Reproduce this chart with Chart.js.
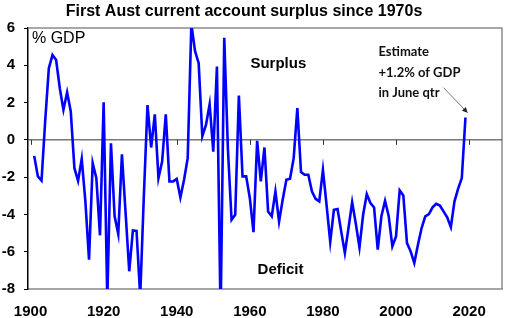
<!DOCTYPE html>
<html>
<head>
<meta charset="utf-8">
<script src="https://cdn.jsdelivr.net/npm/chart.js@4.4.1/dist/chart.umd.min.js"></script>
<style>
  html, body { margin: 0; padding: 0; background: #fff; }
  #wrap { width: 523px; height: 318px; position: relative; }
</style>
</head>
<body>
<div id="wrap"><canvas id="chart"></canvas></div>
<script>
/* ─── Data ─────────────────────────────────────── */

const TITLE = 'First Aust current account surplus since 1970s';
const FIRST_YEAR = 1901;
// current account balance, % of GDP, one value per year 1901..2019
const surplus = [
  -0.86, -1.96, -2.18, 1.0, 3.84, 4.55, 4.28, 2.77, 1.61, 2.55,
  1.52, -1.52, -2.2, -1.02, -3.3, -6.43, -1.25, -2.05, -5.12, 2.02,
  -8.6, -0.18, -4.1, -5.05, -0.77, -3.9, -7.05, -4.86, -4.88, -8.4,
  -3.0, 1.87, -0.41, 1.37, -2.05, -1.16, 1.37, -2.23, -2.23, -2.1,
  -3.09, -2.14, -0.98, 6.2, 4.77, 4.11, 0.2, 0.8, 1.91, -0.63,
  3.93, -9.5, 5.48, -0.5, -4.29, -4.02, 2.38, -1.96, -1.96, -3.13,
  -4.95, -0.05, -2.23, -0.41, -3.84, -4.1, -2.77, -4.38, -3.2, -2.14,
  -2.09, -0.98, 1.7, -1.73, -1.87, -1.87, -2.77, -3.16, -3.3, -1.61,
  -3.5, -5.48, -3.75, -3.71, -4.91, -6.07, -4.73, -3.34, -4.5, -5.77,
  -4.02, -2.91, -3.39, -3.63, -5.89, -4.1, -3.27, -4.1, -5.71, -5.18,
  -2.71, -2.98, -5.54, -5.98, -6.61, -5.63, -4.73, -4.1, -3.98, -3.62,
  -3.43, -3.52, -3.84, -4.16, -4.68, -3.3, -2.62, -2.05, 1.2,
];
const xTicks = [1900, 1920, 1940, 1960, 1980, 2000, 2020];
const yTicks = [6, 4, 2, 0, -2, -4, -6, -8];
const estimateLines = ['Estimate', '+1.2% of GDP', 'in June qtr'];

const years = surplus.map((_, i) => FIRST_YEAR + i);

/* ─── Decorations ──────────────────────────────── */

const decor = {
  id: 'decor',
  beforeDatasetsDraw(chart) {
    const { ctx, chartArea: a, scales: { x, y } } = chart;
    ctx.save();
    // top + right frame
    ctx.strokeStyle = '#8c8c8c';
    ctx.lineWidth = 1.5;
    ctx.beginPath();
    ctx.moveTo(a.left, a.top); ctx.lineTo(a.right, a.top); ctx.lineTo(a.right, a.bottom);
    ctx.stroke();
    // zero line with tick marks below it
    const y0 = y.getPixelForValue(0);
    ctx.strokeStyle = '#333';
    ctx.lineWidth = 1;
    ctx.beginPath();
    ctx.moveTo(a.left, y0); ctx.lineTo(a.right, y0);
    xTicks.forEach(v => {
      const px = Math.round(x.getPixelForValue(v)) + 0.5;
      ctx.moveTo(px, y0); ctx.lineTo(px, y0 + 5);
    });
    ctx.stroke();
    ctx.restore();
  },
  afterDraw(chart) {
    const { ctx, chartArea: a, scales: { x, y } } = chart;
    ctx.save();
    ctx.fillStyle = '#000';
    ctx.textBaseline = 'middle';
    ctx.textAlign = 'center';
    ctx.font = 'bold 16px "Liberation Sans", Arial, sans-serif';
    ctx.fillText(TITLE, 244, 12);

    ctx.textAlign = 'left';
    ctx.font = '16px "Liberation Sans", Arial, sans-serif';
    ctx.fillText('% GDP', a.left + 4, a.top + 11);

    ctx.textAlign = 'center';
    ctx.font = 'bold 15px "Liberation Sans", Arial, sans-serif';
    ctx.fillText('Surplus', x.getPixelForValue(1967.8), y.getPixelForValue(4.1));
    ctx.fillText('Deficit', x.getPixelForValue(1968.4), y.getPixelForValue(-6.95));

    ctx.textAlign = 'left';
    ctx.fillStyle = '#111';
    ctx.font = 'bold 13px Lato, sans-serif';
    [4.7, 3.6, 2.5].forEach((v, i) => {
      ctx.fillText(estimateLines[i], x.getPixelForValue(1995.2), y.getPixelForValue(v));
    });

    // arrow to the latest estimate
    const x1 = x.getPixelForValue(2013), y1 = y.getPixelForValue(2.8);
    const x2 = x.getPixelForValue(2019.6), y2 = y.getPixelForValue(1.45);
    ctx.strokeStyle = '#555';
    ctx.lineWidth = 0.8;
    ctx.beginPath(); ctx.moveTo(x1, y1); ctx.lineTo(x2, y2); ctx.stroke();
    const ang = Math.atan2(y2 - y1, x2 - x1);
    ctx.fillStyle = '#222';
    ctx.beginPath();
    ctx.moveTo(x2, y2);
    ctx.lineTo(x2 - 6 * Math.cos(ang - 0.45), y2 - 6 * Math.sin(ang - 0.45));
    ctx.lineTo(x2 - 6 * Math.cos(ang + 0.45), y2 - 6 * Math.sin(ang + 0.45));
    ctx.closePath(); ctx.fill();
    ctx.restore();
  }
};

/* ─── Chart ────────────────────────────────────── */

const tickFont = { family: '"Liberation Sans", Arial, sans-serif', size: 15, weight: 'bold' };

new Chart(document.getElementById('chart'), {
  type: 'line',
  data: {
    datasets: [{
      data: years.map((yr, i) => ({ x: yr, y: surplus[i] })),
      borderColor: '#0000ff', borderWidth: 2.6,
      pointRadius: 0, tension: 0, fill: false,
    }]
  },
  options: {
    responsive: true, maintainAspectRatio: false, animation: false,
    layout: { padding: { top: 28, right: 21, left: 0, bottom: 0 } },
    plugins: { legend: { display: false }, tooltip: { enabled: false }, title: { display: false } },
    scales: {
      x: {
        type: 'linear', min: 1899.3, max: 2029,
        afterBuildTicks: s => { s.ticks = xTicks.map(v => ({ value: v })); },
        afterFit: s => { s.height = 29; },
        grid: { display: false },
        border: { display: true, color: '#a6a6a6', width: 2 },
        ticks: { color: '#000', font: tickFont, padding: 6, maxRotation: 0, autoSkip: false,
                 callback: v => String(v) },
      },
      y: {
        min: -8, max: 6,
        afterBuildTicks: s => { s.ticks = yTicks.map(v => ({ value: v })); },
        afterFit: s => { s.width = 28; },
        grid: { display: true, drawOnChartArea: false, drawTicks: true, tickLength: 4, color: '#000' },
        border: { display: true, color: '#000', width: 1.5 },
        ticks: { color: '#000', font: tickFont, padding: 9 },
      },
    },
  },
  plugins: [decor],
});
</script>
</body>
</html>
